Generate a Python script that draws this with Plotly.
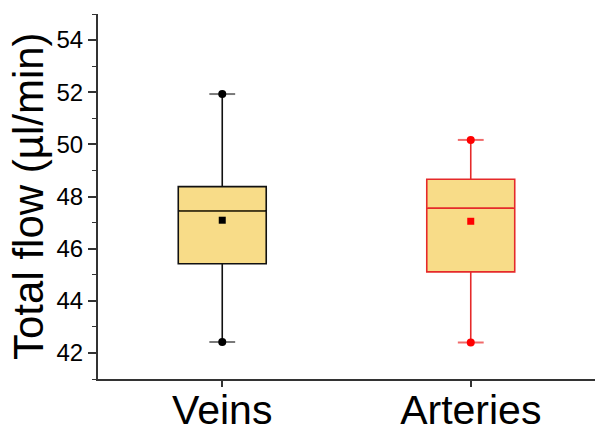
import plotly.graph_objects as go

categories = ["Veins", "Arteries"]
q1 = [45.42, 45.11]
median = [47.45, 47.55]
q3 = [48.38, 48.66]
lower = [42.42, 42.40]
upper = [51.93, 50.17]
mean = [47.09, 47.05]

y_ticks = [42, 44, 46, 48, 50, 52, 54]
y_title = "Total flow (µl/min)"

line_colors = ["#111111", "#e52a2a"]
median_colors = ["#5a4a1c", "#e52a2a"]
cap_colors = ["#7a7a7a", "#f06a6a"]
dot_colors = ["#000000", "#ff0000"]
fill = "#F8DC88"
box_w = 0.354
cap_hw = 0.052

font_family = "Arial, 'Liberation Sans', sans-serif"

fig = go.Figure()
for i, name in enumerate(categories):
    fig.add_trace(go.Box(
        x=[i], q1=[q1[i]], median=[median[i]], q3=[q3[i]],
        lowerfence=[lower[i]], upperfence=[upper[i]],
        width=box_w, whiskerwidth=0, fillcolor=fill,
        line=dict(color=line_colors[i], width=1.6),
        boxpoints=False, name=name, hoverinfo="skip"))
    # median overlay
    fig.add_trace(go.Scatter(
        x=[i - box_w / 2 + 0.005, i + box_w / 2 - 0.005], y=[median[i], median[i]],
        mode="lines", line=dict(color=median_colors[i], width=1.4), hoverinfo="skip"))
    # whisker caps
    fig.add_trace(go.Scatter(
        x=[i - cap_hw, i + cap_hw, None, i - cap_hw, i + cap_hw],
        y=[upper[i], upper[i], None, lower[i], lower[i]],
        mode="lines", line=dict(color=cap_colors[i], width=2), hoverinfo="skip"))
    # whisker end dots
    fig.add_trace(go.Scatter(
        x=[i, i], y=[upper[i], lower[i]], mode="markers",
        marker=dict(symbol="circle", size=8, color=dot_colors[i]), hoverinfo="skip"))
    # mean
    fig.add_trace(go.Scatter(
        x=[i], y=[mean[i]], mode="markers",
        marker=dict(symbol="square", size=7, color=dot_colors[i]), hoverinfo="skip"))

# page body has an 8px default margin, so the figure is offset by 8px
fig.update_layout(
    width=601, height=432,
    margin=dict(l=90, r=14, t=6, b=61),
    plot_bgcolor="white", paper_bgcolor="white",
    showlegend=False,
    font=dict(family=font_family, color="#000000"),
    xaxis=dict(range=[-0.5, 1.5], tickvals=[0, 1], ticktext=categories,
               ticks="outside", ticklen=6, tickwidth=1.5, tickcolor="#333333",
               ticklabelstandoff=-12,
               showline=True, linecolor="#333333", linewidth=2,
               showgrid=False, zeroline=False, automargin=False,
               tickfont=dict(size=41, family=font_family, color="#000000")),
    yaxis=dict(range=[41, 55], tickvals=y_ticks,
               ticks="outside", ticklen=8, tickwidth=1.5, tickcolor="#333333",
               minor=dict(ticks="outside", ticklen=4, dtick=1, tick0=41,
                          tickwidth=1.2, tickcolor="#333333", showgrid=False),
               showline=True, linecolor="#333333", linewidth=2,
               showgrid=False, zeroline=False, automargin=False,
               tickfont=dict(size=24, family=font_family, color="#000000")),
    annotations=[dict(text=y_title, textangle=-90, xref="paper", yref="paper",
                      x=0, y=0.5, xanchor="right", yanchor="middle",
                      xshift=-44, showarrow=False,
                      font=dict(size=42, family=font_family, color="#000000"))],
)

fig.write_html("out.html")
